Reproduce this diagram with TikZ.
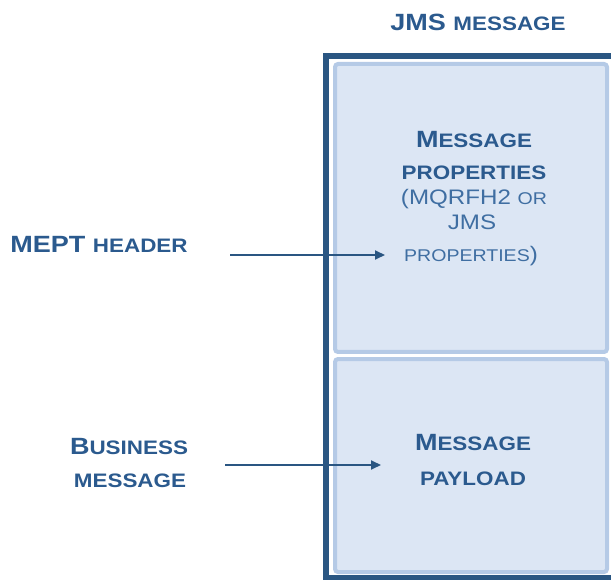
\documentclass[tikz,border=0pt]{standalone}
\usepackage{fontspec}
\setmainfont{Liberation Sans}[FakeStretch=1.15]
\usetikzlibrary{arrows.meta}
\definecolor{txt}{HTML}{2B5A8E}
\definecolor{txtl}{HTML}{3F6EA2}
\definecolor{outer}{HTML}{2A5682}
\definecolor{boxfill}{HTML}{DCE6F4}
\definecolor{boxedge}{HTML}{B5CAE6}
\newcommand\cp{\fontsize{23.5}{25}\selectfont}
\newcommand\sm[1]{{\fontsize{19.5}{25}\selectfont #1}}
\newcommand\rcp{\fontsize{21}{25}\selectfont}
\newcommand\rsm[1]{{\fontsize{17}{25}\selectfont #1}}
\begin{document}
\begin{tikzpicture}[x=1pt,y=-1pt,
  lbl/.style={text=txt,font=\bfseries\cp,inner sep=0pt,anchor=base},
  rlbl/.style={text=txtl,font=\rcp,inner sep=0pt,anchor=base},
  part/.style={draw=boxedge,fill=boxfill,line width=4pt,rounded corners=3pt,inner sep=0pt,minimum width=272pt},
  conn/.style={draw=outer,line width=2pt,-{Triangle[length=10pt,width=9pt]}}]
\useasboundingbox (0,0) rectangle (611,580);
\clip (0,0) rectangle (611,580);
% outer JMS message frame
\draw[outer,line width=6pt] (326,56.5) rectangle (616,578);
\node[part,minimum height=288pt] (props) at (471,208) {};
\node[part,minimum height=213pt] (payload) at (471,465.5) {};
% title
\node[lbl] (title) at (478,31) {JMS \sm{MESSAGE}};
% properties text
\node[lbl] (p1) at (474,148) {M\sm{ESSAGE}};
\node[lbl] (p2) at (474,180) {\sm{PROPERTIES}};
\node[rlbl] (p3) at (474,205) {(MQRFH2 \rsm{OR}};
\node[rlbl] (p4) at (472,230) {JMS};
\node[rlbl] (p5) at (471,262) {\rsm{PROPERTIES})};
% payload text
\node[lbl] (q1) at (473,450) {M\sm{ESSAGE}};
\node[lbl] (q2) at (473,485) {\sm{PAYLOAD}};
% left labels
\node[lbl] (mept) at (99,253) {MEPT \sm{HEADER}};
\node[lbl] (b1) at (129,454) {B\sm{USINESS}};
\node[lbl] (b2) at (130,487) {\sm{MESSAGE}};
% arrows
\coordinate (a1s) at (230,255);
\coordinate (a1e) at (385,255);
\coordinate (a2s) at (225,465);
\coordinate (a2e) at (381,465);
\draw[conn] (a1s) -- (a1e);
\draw[conn] (a2s) -- (a2e);
\end{tikzpicture}
\end{document}
